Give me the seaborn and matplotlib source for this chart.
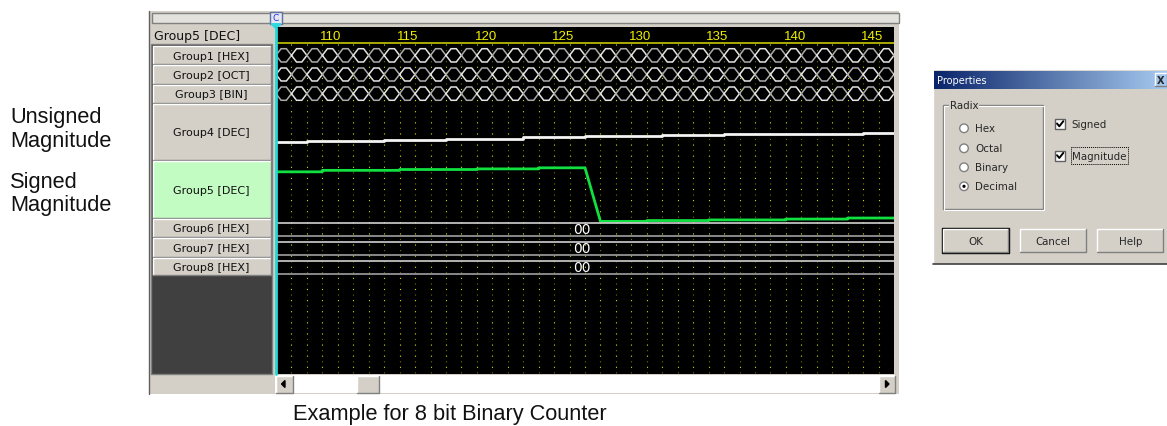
import matplotlib
matplotlib.use("Agg")
import matplotlib.pyplot as plt
from matplotlib.patches import Rectangle, Circle, Polygon
from matplotlib.colors import LinearSegmentedColormap
import numpy as np
import pandas as pd
import seaborn as sns

sns.set_style("white")
plt.rcParams['font.family'] = ['DejaVu Sans']

# ---- data ----
group_names = ['Group1 [HEX]', 'Group2 [OCT]', 'Group3 [BIN]', 'Group4 [DEC]',
               'Group5 [DEC]', 'Group6 [HEX]', 'Group7 [HEX]', 'Group8 [HEX]']
header_ticks = [110, 115, 120, 125, 130, 135, 140, 145]
grid_ticks = list(range(107, 148))      # one dotted line per sample
bus_edges = list(range(106, 149))       # groups 1-3 change every sample

# Group4 unsigned (start, end, value)
g4_start = [107, 109, 114, 118, 123, 127, 132, 136, 141, 145]
g4_end = [109, 114, 118, 123, 127, 132, 136, 141, 145, 147]
g4_value = [82, 86, 91, 96, 102, 107, 112, 117, 120, 124]

# Group5 signed (start, end, value) - wraps between 127 and 128
g5_start = [107, 110, 115, 120, 124, 128, 131, 135, 140, 144]
g5_end = [110, 115, 120, 124, 127, 131, 135, 140, 144, 147]
g5_value = [108, 115, 119, 122, 127, -128, -124, -121, -117, -112]

flat_values = ['00', '00', '00']

radix_options = ['Hex', 'Octal', 'Binary', 'Decimal']
radix_selected = 'Decimal'
check_options = ['Signed', 'Magnitude']

# ---- layout (pixels) ----
W, H = 1167, 427
fig = plt.figure(figsize=(W / 100, H / 100), dpi=100)
bg = fig.add_axes([0, 0, 1, 1])
bg.set_xlim(0, W)
bg.set_ylim(H, 0)
bg.axis('off')

GRAY = '#d4d0c8'
GUI = 'DejaVu Sans'
ARIAL = 'Liberation Sans'


def px_axes(x0, y0, x1, y1):
    return fig.add_axes([x0 / W, 1 - y1 / H, (x1 - x0) / W, (y1 - y0) / H])


def button(x0, y0, x1, y1, face=GRAY, default=False):
    bg.add_patch(Rectangle((x0, y0), x1 - x0, y1 - y0, facecolor=face, edgecolor='none'))
    bg.plot([x0, x0, x1], [y1, y0, y0], color='white', lw=1)
    bg.plot([x0, x1, x1], [y1, y1, y0], color='#808080', lw=1)
    if default:
        bg.add_patch(Rectangle((x0 - 1, y0 - 1), x1 - x0 + 2, y1 - y0 + 2,
                               facecolor='none', edgecolor='black', lw=1))


# window
bg.add_patch(Rectangle((148.5, 12), 750.5, 383, facecolor=GRAY, edgecolor='none'))
bg.plot([148.5, 148.5], [12, 395], color='#606060', lw=1)
bg.add_patch(Rectangle((152, 14), 747, 9.5, facecolor='#e4e2dc', edgecolor='#808080', lw=1))

# left panel
bg.add_patch(Rectangle((151, 45), 121, 330, facecolor='#404040', edgecolor='#808080', lw=1))
bg.text(154, 36.5, 'Group5 [DEC]', fontsize=9, family=GUI, va='center', color='#101010')
row_edges = [46.5, 65.7, 85, 104, 161.7, 219.5, 238.3, 258.3, 276.7]
for i, name in enumerate(group_names):
    y0, y1 = row_edges[i], row_edges[i + 1]
    face = '#c2fcc2' if i == 4 else GRAY
    button(153, y0 + 0.5, 270.5, y1 - 0.5, face=face)
    bg.text(211.5, (y0 + y1) / 2 + 0.5, name, fontsize=8, family=GUI,
            ha='center', va='center', color='#101010')

# bottom scrollbar
bg.add_patch(Rectangle((275, 376), 620, 18, facecolor='white', edgecolor='none'))
button(275.5, 376.5, 293, 393.5)
button(357.3, 376.5, 379.3, 393.5)
button(879, 376.5, 895, 393.5)
bg.add_patch(Polygon([(281.5, 385), (285, 381.5), (285, 388.5)], color='black'))
bg.add_patch(Polygon([(889, 385), (885.5, 381.5), (885.5, 388.5)], color='black'))

# ---- waveform area ----
wax = px_axes(276, 28, 894, 375)
wax.set_xlim(107, 147)
wax.set_ylim(375, 28)
wax.set_facecolor('black')
for s in wax.spines.values():
    s.set_visible(False)
wax.set_xticks([])
wax.set_yticks([])

wax.vlines(grid_ticks, 44.5, 375, colors='#e0e000', linestyles=(0, (1, 9)), lw=0.8)
wax.vlines(grid_ticks, 44.5, 375, colors='#707000', linestyles=(5, (1, 9)), lw=0.8)
wax.axhline(43.5, color='#c8c800', lw=1.2)
for t in header_ticks:
    wax.text(t - 0.15, 36.5, str(t), color='#f0f000', fontsize=9.5, family=ARIAL,
             ha='left', va='center')

# groups 1-3: hexagon bus
bus_rows = [(49.7, 63.0), (69.0, 82.0), (88.0, 101.3)]
d = 0.33
for i, (yt, yb) in enumerate(bus_rows):
    yc = (yt + yb) / 2
    for k in range(len(bus_edges) - 1):
        a, b = bus_edges[k], bus_edges[k + 1]
        xs = [a, a + d, b - d, b, b - d, a + d, a]
        ys = [yc, yt, yt, yc, yb, yb, yc]
        col = '#e4e4e4' if (k + i) % 2 == 0 else '#acacac'
        wax.plot(xs, ys, color=col, lw=1.1, solid_joinstyle='miter')


def segments_to_path(starts, ends, values, to_y):
    xs, ys = [], []
    for a, b, v in zip(starts, ends, values):
        xs += [a, b]
        ys += [to_y(v), to_y(v)]
    return pd.DataFrame({'t': xs, 'y': ys})


g4 = segments_to_path(g4_start, g4_end, g4_value, lambda v: 160 - v * 54 / 255)
g5 = segments_to_path(g5_start, g5_end, g5_value, lambda v: 195.5 - v * 0.21)
sns.lineplot(data=g4, x='t', y='y', sort=False, estimator=None, color='#f4f4f4', lw=2, ax=wax)
sns.lineplot(data=g5, x='t', y='y', sort=False, estimator=None, color='#10e040', lw=2, ax=wax)
wax.set_xlim(107, 147)
wax.set_ylim(375, 28)
wax.set_xlabel('')
wax.set_ylabel('')

# groups 6-8: constant bus
flat_rows = [(224.3, 236.7), (243.3, 256.0), (262.3, 275.0)]
for (yt, yb), val in zip(flat_rows, flat_values):
    wax.hlines(yt, 107, 147, color='#d0d0d0', lw=1.2)
    wax.hlines(yb, 107, 147, color='#a0a0a0', lw=1.2)
    wax.text(126.8, (yt + yb) / 2 - 1, val, color='white', fontsize=10, family=GUI,
             ha='center', va='center')

# cursor line + marker
wax.axvline(107, color='#20d8d8', lw=2, clip_on=False)
bg.add_patch(Rectangle((270, 13), 11.7, 11.7, facecolor='#e4e6f4', edgecolor='#6070a0', lw=1))
bg.text(275.9, 18.5, 'C', fontsize=6.5, family=GUI, color='#2030e0', ha='center', va='center')
bg.add_patch(Polygon([(271, 24.8), (281, 24.8), (276, 29.5)], color='#30d8e0'))

# side annotations
ann = dict(fontsize=15.7, family=ARIAL, va='baseline', color='#111111')
bg.text(10, 123.3, 'Unsigned', **ann)
bg.text(10, 146.7, 'Magnitude', **ann)
bg.text(10, 188.3, 'Signed', **ann)
bg.text(10, 210.7, 'Magnitude', **ann)
bg.text(293, 420.5, 'Example for 8 bit Binary Counter', **ann)

# ---- properties dialog ----
bg.add_patch(Rectangle((932.5, 70), 240, 195, facecolor=GRAY, edgecolor='none'))
bg.plot([932.5, 932.5, 1167], [265, 70, 70], color='white', lw=1)
bg.plot([932.5, 1167], [265, 265], color='#404040', lw=1.2)
grad = np.linspace(0, 1, 200).reshape(1, -1)
title_cmap = LinearSegmentedColormap.from_list('title', ['#0a246a', '#a6caf0'])
bg.imshow(grad, extent=[934, 1167, 89.5, 71.5], cmap=title_cmap, aspect='auto', zorder=2)
bg.set_xlim(0, W)
bg.set_ylim(H, 0)
bg.text(937, 80.5, 'Properties', fontsize=7, family=GUI, color='white', va='center', zorder=3)
button(1155, 74, 1167, 87)
bg.text(1161, 80.5, 'X', fontsize=7, family=GUI, weight='bold', ha='center', va='center', zorder=3)

# radix group box
bg.add_patch(Rectangle((943.3, 106), 100, 104, facecolor='none', edgecolor='#808080', lw=1))
bg.add_patch(Rectangle((944.3, 107), 100, 104, facecolor='none', edgecolor='white', lw=0.8))
bg.text(950, 106, 'Radix', fontsize=7.4, family=GUI, va='center',
        bbox=dict(facecolor=GRAY, edgecolor='none', pad=0.5))
radio_y = [129.3, 149.3, 168.3, 187.3]
for name, y in zip(radix_options, radio_y):
    bg.add_patch(Circle((964, y), 4.3, facecolor='white', edgecolor='#808080', lw=1))
    if name == radix_selected:
        bg.add_patch(Circle((964, y), 1.6, facecolor='black', edgecolor='none'))
    bg.text(975, y, name, fontsize=7.4, family=GUI, va='center')

check_y = [125, 156.7]
for name, y in zip(check_options, check_y):
    bg.add_patch(Rectangle((1055, y - 5), 10, 10, facecolor='white', edgecolor='#606060', lw=1))
    bg.plot([1057, 1059.3, 1063.3], [y - 0.5, y + 2.3, y - 2.8], color='black', lw=1.4)
    bg.text(1071.7, y, name, fontsize=7.4, family=GUI, va='center')
bg.add_patch(Rectangle((1070.7, 148.3), 57, 16.7, facecolor='none', edgecolor='black',
                       lw=0.7, linestyle=(0, (1, 1))))

for (x0, x1), label in zip([(942.7, 1008.3), (1020, 1085.7), (1097.3, 1163.3)],
                           ['OK', 'Cancel', 'Help']):
    button(x0, 230, x1, 253.3, default=(label == 'OK'))
    bg.text((x0 + x1) / 2, 241.7, label, fontsize=7.4, family=GUI, ha='center', va='center')

fig.savefig('out.png', dpi=100)
